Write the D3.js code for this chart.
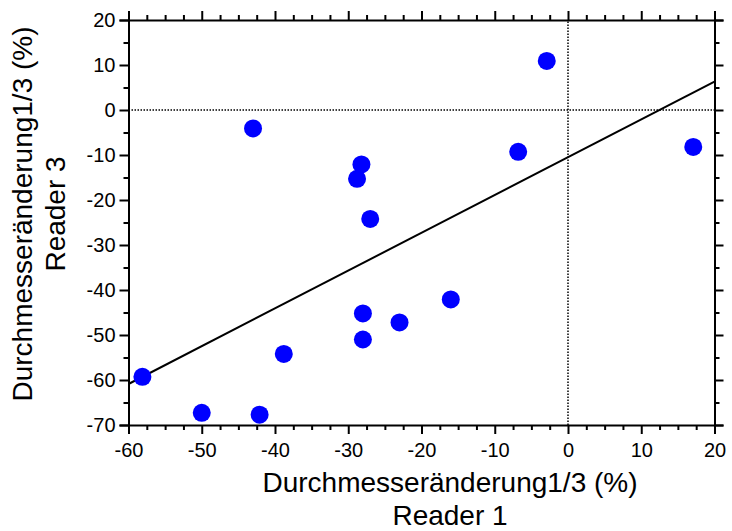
<!DOCTYPE html>
<html>
<head>
<meta charset="utf-8">
<script src="https://cdn.jsdelivr.net/npm/d3@7"></script>
<style>
  html, body { margin: 0; padding: 0; background: #fff; }
  svg { display: block; }
  text { font-family: "Liberation Sans", Arial, sans-serif; fill: #000; }
</style>
</head>
<body>
<svg id="chart" width="732" height="531"></svg>
<script>
// Diameter change 1/3 (%) per lesion: Reader 1 (x) vs Reader 3 (y)
const reader1 = [-43.0, -28.2, -28.8, -2.9, -6.8, 17.1, -27.0, -58.1, -50.0, -42.1, -38.8, -28.0, -28.0, -23.0, -16.0];
const reader3 = [-4.1, -12.1, -15.3, 10.9, -9.3, -8.2, -24.2, -59.3, -67.3, -67.7, -54.2, -45.2, -51.0, -47.2, -42.1];
const xTicks = [-60, -50, -40, -30, -20, -10, 0, 10, 20];
const yTicks = [20, 10, 0, -10, -20, -30, -40, -50, -60, -70];
const xTitle = ["Durchmesseränderung1/3 (%)", "Reader 1"];
const yTitle = ["Durchmesseränderung1/3 (%)", "Reader 3"];

const svg = d3.select("#chart");
const plotL = 128.5, plotR = 714.5, plotT = 20, plotB = 425;

const x = d3.scaleLinear().domain([-60, 20]).range([plotL, plotR]);
const y = d3.scaleLinear().domain([-70, 20]).range([plotB, plotT]);

// least-squares fit of Reader 3 on Reader 1
const n = reader1.length;
const mx = d3.mean(reader1), my = d3.mean(reader3);
let sxy = 0, sxx = 0;
for (let i = 0; i < n; i++) {
  sxy += (reader1[i] - mx) * (reader3[i] - my);
  sxx += (reader1[i] - mx) ** 2;
}
const slope = sxy / sxx;
const intercept = my - slope * mx;

// zero reference lines
const g = svg.append("g");
g.append("line")
  .attr("x1", x(-60)).attr("x2", x(20)).attr("y1", y(0)).attr("y2", y(0))
  .attr("stroke", "#000").attr("stroke-width", 1.5).attr("stroke-dasharray", "1.5,1.5");
g.append("line")
  .attr("x1", x(0)).attr("x2", x(0)).attr("y1", y(-70)).attr("y2", y(20))
  .attr("stroke", "#000").attr("stroke-width", 1.5).attr("stroke-dasharray", "1.5,1.5");

// regression line across the full x range
g.append("line")
  .attr("x1", x(-60)).attr("y1", y(intercept + slope * -60))
  .attr("x2", x(20)).attr("y2", y(intercept + slope * 20))
  .attr("stroke", "#000").attr("stroke-width", 2);

// points
g.selectAll("circle.pt").data(d3.range(n)).join("circle")
  .attr("class", "pt")
  .attr("cx", i => x(reader1[i]))
  .attr("cy", i => y(reader3[i]))
  .attr("r", 9)
  .attr("fill", "#0000ff");

// axes: major ticks with labels on left/bottom, mirrored ticks on top/right
const xMinor = d3.range(-60, 20.01, 2.5).filter(v => !xTicks.includes(v));
const yMinor = d3.range(-70, 20.01, 5).filter(v => !yTicks.includes(v));
const plainNum = d => String(d);

function styleAxis(sel) {
  sel.select(".domain").attr("stroke", "#000").attr("stroke-width", 2);
  sel.selectAll(".tick line").attr("stroke", "#000").attr("stroke-width", 2);
  sel.selectAll(".tick text").style("font-size", "20px").style("font-family", "Liberation Sans, Arial, sans-serif");
}
function minorAxis(sel) {
  sel.select(".domain").remove();
  sel.selectAll("line").attr("stroke", "#000").attr("stroke-width", 2);
}

const axB = svg.append("g").attr("transform", `translate(0,${plotB})`)
  .call(d3.axisBottom(x).tickValues(xTicks).tickSize(9).tickPadding(9).tickFormat(plainNum));
styleAxis(axB);
svg.append("g").attr("transform", `translate(0,${plotB})`)
  .call(d3.axisBottom(x).tickValues(xMinor).tickSize(5).tickFormat(""))
  .call(minorAxis);

const axT = svg.append("g").attr("transform", `translate(0,${plotT})`)
  .call(d3.axisTop(x).tickValues(xTicks).tickSize(9).tickFormat(""));
styleAxis(axT);
svg.append("g").attr("transform", `translate(0,${plotT})`)
  .call(d3.axisTop(x).tickValues(xMinor).tickSize(5).tickFormat(""))
  .call(minorAxis);

const axL = svg.append("g").attr("transform", `translate(${plotL},0)`)
  .call(d3.axisLeft(y).tickValues(yTicks).tickSize(9).tickPadding(4).tickFormat(plainNum));
styleAxis(axL);
svg.append("g").attr("transform", `translate(${plotL},0)`)
  .call(d3.axisLeft(y).tickValues(yMinor).tickSize(5).tickFormat(""))
  .call(minorAxis);

const axR = svg.append("g").attr("transform", `translate(${plotR},0)`)
  .call(d3.axisRight(y).tickValues(yTicks).tickSize(9).tickFormat(""));
styleAxis(axR);
svg.append("g").attr("transform", `translate(${plotR},0)`)
  .call(d3.axisRight(y).tickValues(yMinor).tickSize(5).tickFormat(""))
  .call(minorAxis);

// axis titles
svg.append("text").attr("x", 450).attr("y", 492)
  .attr("text-anchor", "middle").style("font-size", "28px").text(xTitle[0]);
svg.append("text").attr("x", 450).attr("y", 525)
  .attr("text-anchor", "middle").style("font-size", "28px").text(xTitle[1]);

const yt = svg.append("g").attr("transform", "translate(0,214) rotate(-90)");
yt.append("text").attr("x", 0).attr("y", 32)
  .attr("text-anchor", "middle").style("font-size", "28px").text(yTitle[0]);
yt.append("text").attr("x", 0).attr("y", 65)
  .attr("text-anchor", "middle").style("font-size", "28px").text(yTitle[1]);
</script>
</body>
</html>
